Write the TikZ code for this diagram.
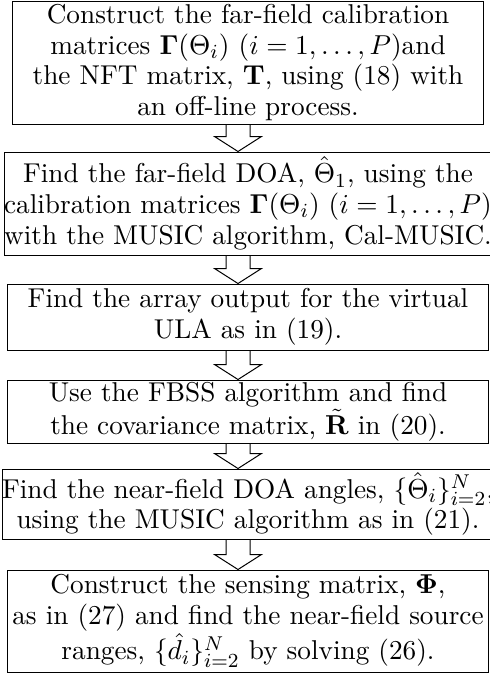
\documentclass[tikz,border=0pt]{standalone}
\usepackage{amsmath,amssymb,bm}
\usetikzlibrary{calc}

\tikzset{
	stepbox/.style={draw, align=center, minimum width=192pt, inner sep=0pt, font=\fontsize{10.9pt}{12.3pt}\selectfont},
}

\begin{document}
\begin{tikzpicture}[x=0.4pt,y=-0.4pt]
	\useasboundingbox (0,0) rectangle (489,675);
	
	\node[stepbox, minimum width=188pt, minimum height=49.2pt] (b1) at (248,62.5) {Construct the far-field calibration\\ matrices $\mathbf{\Gamma}(\Theta_i)$ $(i=1,\ldots,P)$and\\ the NFT matrix, $\mathbf{T}$, using (18) with\\ an off-line process.};
	\node[stepbox, minimum height=41.2pt] (b2) at (248,203.5) {Find the far-field DOA, $\hat{\Theta}_1$, using the\\ calibration matrices $\mathbf{\Gamma}(\Theta_i)$ $(i=1,\ldots,P)$\\ with the MUSIC algorithm, Cal-MUSIC.};
	\node[stepbox, minimum height=26.4pt] (b3) at (248,317) {Find the array output for the virtual\\ ULA as in (19).};
	\node[stepbox, minimum height=25.2pt] (b4) at (248,411.5) {Use the FBSS algorithm and find\\ the covariance matrix, $\tilde{\mathbf{R}}$ in (20).};
	\node[stepbox, minimum height=28pt] (b5) at (248,504) {Find the near-field DOA angles, $\{\hat{\Theta}_i\}_{i=2}^N$,\\ using the MUSIC algorithm as in (21).};
	\node[stepbox, minimum height=40.8pt] (b6) at (248,621) {Construct the sensing matrix, $\bm{\Phi}$,\\ as in (27) and find the near-field source\\ ranges, $\{\hat{d}_i\}_{i=2}^N$ by solving (26).};
	
	% hollow arrows between the steps
	\foreach \a/\b in {b1/b2,b2/b3,b3/b4,b4/b5,b5/b6}
		\draw let \p1=(\a.south), \p2=(\b.north) in
			(\x1-8.8pt,\y1) -- (\x1-8.8pt,\y2+6pt) -- (\x1-13.4pt,\y2+6pt) -- (\x1-4pt,\y2)
			-- (\x1+5.4pt,\y2+6pt) -- (\x1+0.8pt,\y2+6pt) -- (\x1+0.8pt,\y1);
\end{tikzpicture}
\end{document}
